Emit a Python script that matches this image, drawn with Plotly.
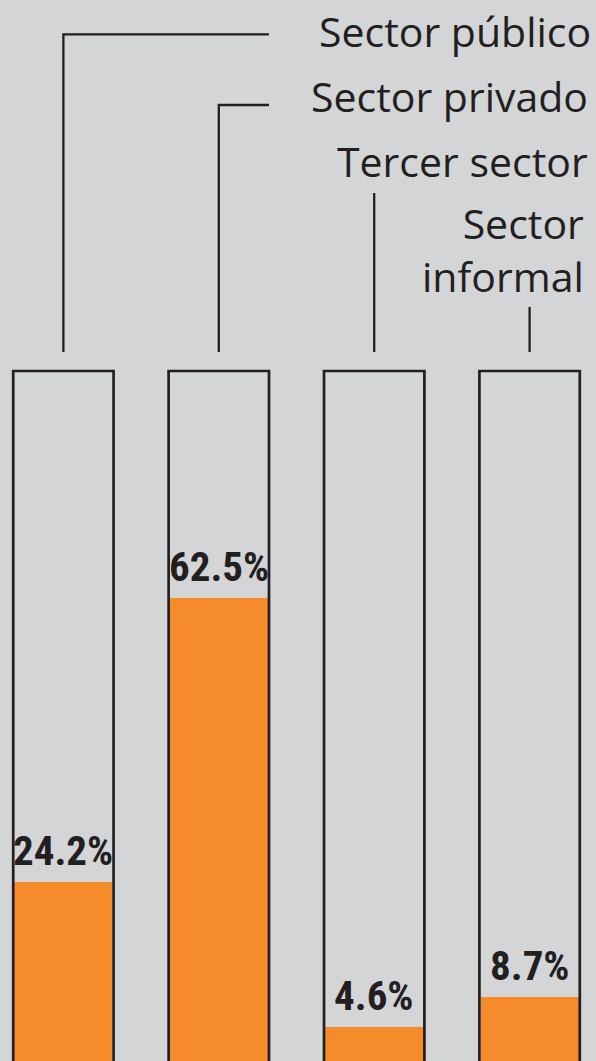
import plotly.graph_objects as go

categories = ["Sector público", "Sector privado", "Tercer sector", "Sector<br>informal"]
values = [24.2, 62.5, 4.6, 8.7]
value_labels = ["24.2%", "62.5%", "4.6%", "8.7%"]

BG = "#d4d5d7"
ORANGE = "#f68b2b"
INK = "#231f20"

PPU = 7.41          # pixels per percentage point
H = 1061
W = 596

def py(p):  # pixel row -> data y
    return (H - p) / PPU

xs = list(range(len(categories)))

fig = go.Figure()
fig.add_trace(go.Bar(
    x=xs, y=values, width=0.631,
    marker=dict(color=ORANGE, line=dict(width=0)),
    hoverinfo="skip", showlegend=False,
))

shapes = []
box_top = py(371)
for i in xs:
    shapes.append(dict(type="rect", xref="x", yref="y",
                       x0=i - 0.323, x1=i + 0.323, y0=-5, y1=box_top,
                       line=dict(color=INK, width=2.7), fillcolor="rgba(0,0,0,0)", layer="above"))

line_bottom = py(352)
line_end_x = (269 - 63.4) / 155.4
lw = 2.3
# Sector público
shapes.append(dict(type="path", xref="x", yref="y",
                   path=f"M {line_end_x} {py(34.3)} L 0 {py(34.3)} L 0 {line_bottom}",
                   line=dict(color=INK, width=lw)))
# Sector privado
shapes.append(dict(type="path", xref="x", yref="y",
                   path=f"M {line_end_x} {py(105)} L 1 {py(105)} L 1 {line_bottom}",
                   line=dict(color=INK, width=lw)))
# Tercer sector
shapes.append(dict(type="line", xref="x", yref="y", x0=2, x1=2, y0=py(193), y1=line_bottom,
                   line=dict(color=INK, width=lw)))
# Sector informal
shapes.append(dict(type="line", xref="x", yref="y", x0=3, x1=3, y0=py(307), y1=line_bottom,
                   line=dict(color=INK, width=lw)))

annotations = []
for i, (v, t) in enumerate(zip(values, value_labels)):
    annotations.append(dict(x=i, y=v, xref="x", yref="y", text=t, showarrow=False,
                            yanchor="bottom", xanchor="center", yshift=5,
                            font=dict(family="Roboto Condensed, sans-serif",
                                      size=41, weight=700, color=INK)))

cat_font = dict(family="Open Sans, Noto Sans, sans-serif", size=41, color=INK)
# (right-edge pixel, centre pixel)
cat_pos = [
    (593, 31),
    (590, 96),
    (590, 161),
    (586, 249),
]
for txt, (xr, cy) in zip(categories, cat_pos):
    annotations.append(dict(x=xr / W, y=py(cy), xref="paper", yref="y", text=txt,
                            showarrow=False, xanchor="right", yanchor="middle", align="right",
                            font=cat_font))

fig.update_layout(
    width=W, height=H,
    margin=dict(l=0, r=0, t=0, b=0),
    paper_bgcolor=BG, plot_bgcolor=BG,
    xaxis=dict(range=[-63.4 / 155.4, (W - 63.4) / 155.4], visible=False, fixedrange=True),
    yaxis=dict(range=[0, H / PPU], visible=False, fixedrange=True),
    shapes=shapes, annotations=annotations,
    bargap=0, showlegend=False,
)

fig.write_html("out.html", config={"displayModeBar": False},
               post_script="document.body.style.margin='0';document.body.style.overflow='hidden';")
